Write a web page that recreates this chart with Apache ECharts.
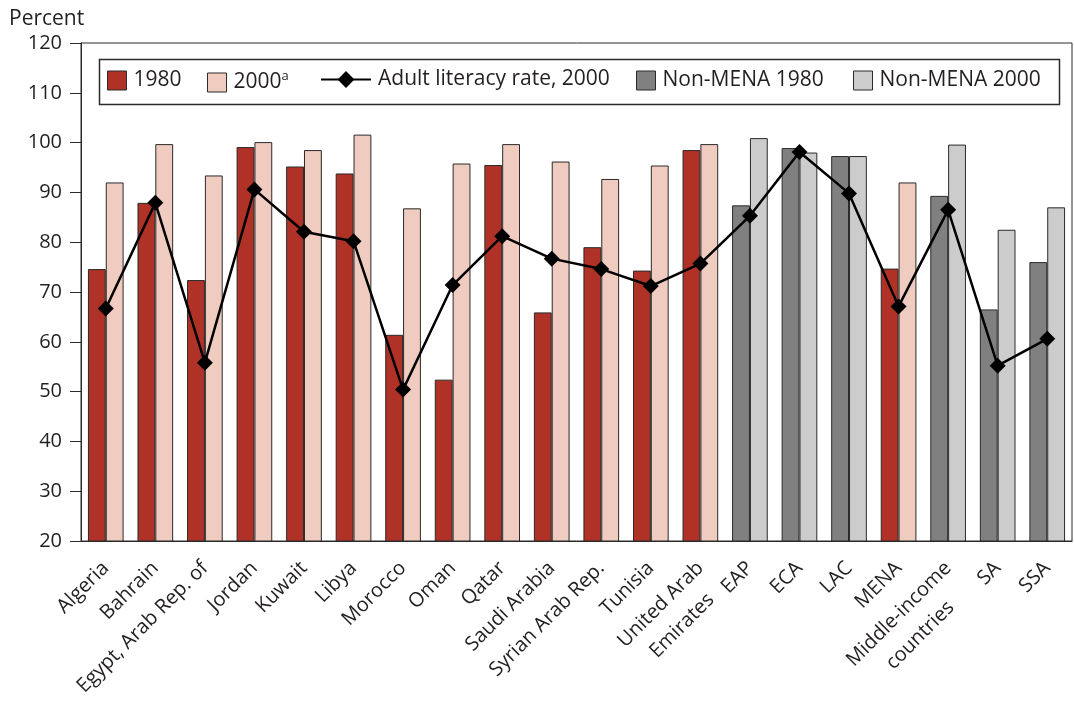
<!DOCTYPE html>
<html>
<head>
<meta charset="utf-8">
<script src="https://cdn.jsdelivr.net/npm/echarts@6/dist/echarts.min.js"></script>
<style>
html,body{margin:0;padding:0;background:#fff;}
#chart{width:1074px;height:706px;}
</style>
</head>
<body>
<div id="chart"></div>
<script>
const categories = ['Algeria','Bahrain','Egypt, Arab Rep. of','Jordan','Kuwait','Libya','Morocco','Oman','Qatar','Saudi Arabia','Syrian Arab Rep.','Tunisia','United Arab\nEmirates','EAP','ECA','LAC','MENA','Middle-income\ncountries','SA','SSA'];
const mena1980 = [74.6, 87.9, 72.4, 99.1, 95.2, 93.8, 61.4, 52.4, 95.5, 65.9, 79.0, 74.3, 98.5, null, null, null, 74.7, null, null, null];
const mena2000 = [92.0, 99.7, 93.4, 100.1, 98.5, 101.6, 86.8, 95.8, 99.7, 96.2, 92.7, 95.4, 99.7, null, null, null, 92.0, null, null, null];
const nonMena1980 = [null, null, null, null, null, null, null, null, null, null, null, null, null, 87.4, 98.9, 97.3, null, 89.3, 66.5, 76.0];
const nonMena2000 = [null, null, null, null, null, null, null, null, null, null, null, null, null, 100.9, 98.0, 97.3, null, 99.6, 82.5, 87.0];
const literacy2000 = [66.7, 87.9, 55.8, 90.6, 82.1, 80.2, 50.4, 71.4, 81.2, 76.7, 74.6, 71.2, 75.7, 85.3, 98.1, 89.8, 67.1, 86.5, 55.2, 60.6];
const seriesNames = ['1980', '2000', 'Adult literacy rate, 2000', 'Non-MENA 1980', 'Non-MENA 2000'];

const FONT = 'Open Sans';
const TXT = '#231f20';
const EDGE = '#2a2a2a';
const RED = '#b03227', PINK = '#efcbc0', DGRAY = '#808080', LGRAY = '#cccccc';

const chart = echarts.init(document.getElementById('chart'), null, {renderer: 'canvas'});

function legendAt(name, left, opts) {
  return Object.assign({
    data: [{name: name, icon: 'rect'}], left: left, top: 70, padding: 0,
    itemWidth: 19, itemHeight: 19, itemGap: 0,
    selectedMode: false,
    itemStyle: {borderColor: EDGE, borderWidth: 1},
    textStyle: {fontFamily: FONT, fontSize: 21, color: TXT, padding: [0, 0, 0, 2],
      rich: {sup: {fontFamily: FONT, fontSize: 13, color: TXT, padding: [0, 0, 12, 0]}}},
    formatter: n => n === '2000' ? '2000{sup|a}' : n
  }, opts || {});
}

const barBase = {type: 'bar', barGap: '0%', barCategoryGap: '28%'};

const xLabelRich = {ctr: {align: 'center', fontFamily: FONT, fontSize: 20, color: TXT, lineHeight: 30}};
function xLabelFormatter(v) {
  if (v.indexOf('\n') < 0) return v;
  const lines = v.split('\n');
  return ['{ctr| }'].concat(lines.map(l => '{ctr|' + l + '}')).join('\n');
}

chart.setOption({
  animation: false,
  title: {text: 'Percent', left: 4, top: 4, textStyle: {fontFamily: FONT, fontSize: 21, fontWeight: 'normal', color: TXT}},
  grid: {left: 81, right: 2, top: 43, bottom: 165, show: true, borderColor: EDGE, borderWidth: 1},
  legend: [
    legendAt(seriesNames[0], 107),
    legendAt(seriesNames[1], 207),
    legendAt(seriesNames[2], 320, {data: [seriesNames[2]], itemWidth: 50, itemHeight: 21, top: 69, itemStyle: {}}),
    legendAt(seriesNames[3], 636),
    legendAt(seriesNames[4], 853)
  ],
  graphic: [{type: 'rect', left: 97, top: 57, shape: {width: 960, height: 45},
    style: {fill: 'none', stroke: EDGE, lineWidth: 1.5}, z: 10}],
  xAxis: {
    type: 'category', data: categories,
    axisLine: {lineStyle: {color: EDGE, width: 1}},
    axisTick: {length: 11, lineStyle: {color: EDGE}},
    axisLabel: {interval: 0, rotate: 45, margin: 24, fontFamily: FONT, fontSize: 20, color: TXT, lineHeight: 30,
      formatter: xLabelFormatter, rich: xLabelRich}
  },
  yAxis: {
    type: 'value', min: 20, max: 120, interval: 10,
    axisLine: {show: true, lineStyle: {color: EDGE, width: 1}},
    axisTick: {show: true, length: 11, lineStyle: {color: EDGE}},
    splitLine: {show: false},
    axisLabel: {margin: 19, fontFamily: FONT, fontSize: 20, color: TXT}
  },
  series: [
    Object.assign({}, barBase, {name: seriesNames[0], stack: 'y1980', data: mena1980, itemStyle: {color: RED, borderColor: EDGE, borderWidth: 1}}),
    Object.assign({}, barBase, {name: seriesNames[1], stack: 'y2000', data: mena2000, itemStyle: {color: PINK, borderColor: EDGE, borderWidth: 1}}),
    Object.assign({}, barBase, {name: seriesNames[3], stack: 'y1980', data: nonMena1980, itemStyle: {color: DGRAY, borderColor: EDGE, borderWidth: 1}}),
    Object.assign({}, barBase, {name: seriesNames[4], stack: 'y2000', data: nonMena2000, itemStyle: {color: LGRAY, borderColor: EDGE, borderWidth: 1}}),
    {name: seriesNames[2], type: 'line', data: literacy2000, z: 5,
      symbol: 'diamond', symbolSize: 16,
      lineStyle: {color: '#000', width: 2.5}, itemStyle: {color: '#000'}}
  ]
});
</script>
</body>
</html>
